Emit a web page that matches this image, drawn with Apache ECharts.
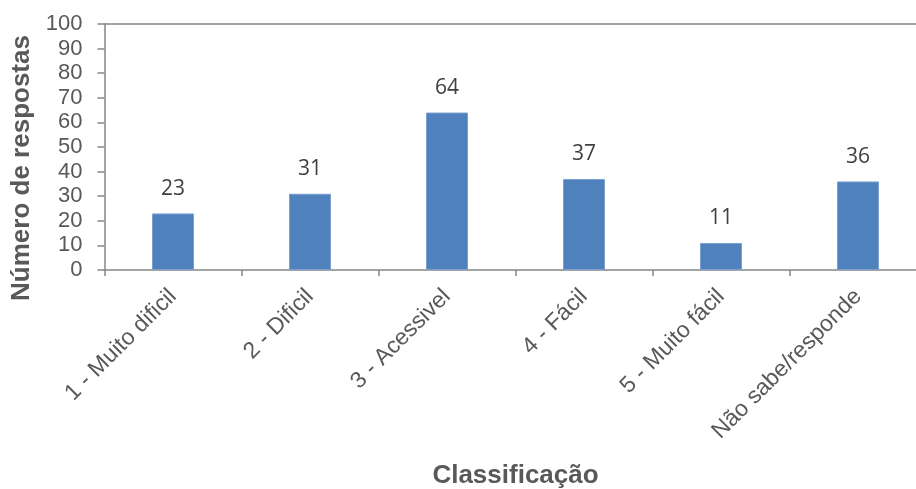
<!DOCTYPE html>
<html>
<head>
<meta charset="utf-8">
<script src="https://cdn.jsdelivr.net/npm/echarts@6/dist/echarts.min.js"></script>
<style>
  html, body { margin: 0; padding: 0; background: #fff; }
  #main { width: 916px; height: 489px; }
</style>
</head>
<body>
<div id="main"></div>
<script>
// classificacoes e numero de respostas
var categorias = ['1 - Muito dificil', '2 - Dificil', '3 - Acessivel', '4 - Fácil', '5 - Muito fácil', 'Não sabe/responde'];
var respostas = [23, 31, 64, 37, 11, 36];
var yTicks = [0, 10, 20, 30, 40, 50, 60, 70, 80, 90, 100];

var myChart = echarts.init(document.getElementById('main'));

var cinza = '#868686';
var texto = '#595959';

var option = {
    animation: false,
    // a area do grafico passa da borda direita, como no original
    grid: { left: 104.5, width: 822, top: 24, height: 246, outerBoundsMode: 'none', containLabel: false },
    xAxis: [
        {
            type: 'category',
            data: categorias,
            name: 'Classificação',
            nameLocation: 'middle',
            nameGap: 193,
            nameTextStyle: { fontFamily: 'Liberation Sans', fontWeight: 'bold', fontSize: 26, color: texto },
            axisLine: { lineStyle: { color: cinza, width: 1.5 } },
            axisTick: { show: true, length: 6, lineStyle: { color: cinza, width: 1.5 } },
            axisLabel: { interval: 0, rotate: 45, margin: 23, fontFamily: 'Liberation Sans', fontSize: 23, color: texto }
        },
        {
            // linha superior da area do grafico
            type: 'category',
            position: 'top',
            data: categorias,
            axisLine: { lineStyle: { color: cinza, width: 1.5 } },
            axisTick: { show: false },
            axisLabel: { show: false }
        }
    ],
    yAxis: {
        type: 'value',
        min: yTicks[0],
        max: yTicks[yTicks.length - 1],
        interval: 10,
        name: 'Número de respostas',
        nameLocation: 'middle',
        nameGap: 70,
        nameTextStyle: { fontFamily: 'Liberation Sans', fontWeight: 'bold', fontSize: 26, color: texto, padding: [0, 42, 0, 0] },
        axisLine: { show: true, lineStyle: { color: cinza, width: 1.5 } },
        axisTick: { show: true, length: 7, lineStyle: { color: cinza, width: 1.5 } },
        axisLabel: { margin: 22, fontFamily: 'Liberation Sans', fontSize: 22, color: texto },
        splitLine: { show: false }
    },
    series: [
        {
            type: 'bar',
            data: respostas,
            barWidth: 42,
            itemStyle: { color: '#4F81BD', borderColor: '#7BA0D0', borderWidth: 1 },
            label: {
                show: true,
                position: 'top',
                distance: 14,
                fontFamily: 'Open Sans',
                fontSize: 21,
                color: '#404040'
            }
        }
    ]
};

myChart.setOption(option);
</script>
</body>
</html>
